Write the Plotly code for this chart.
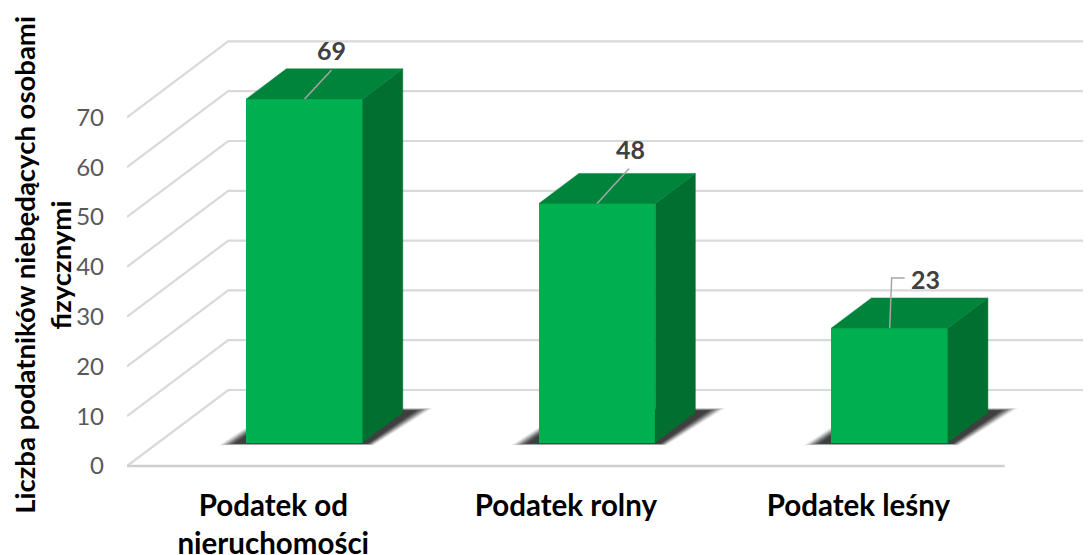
import plotly.graph_objects as go

categories = ["Podatek od<br>nieruchomości", "Podatek rolny", "Podatek leśny"]
values = [69, 48, 23]
value_ticks = [0, 10, 20, 30, 40, 50, 60, 70]
y_title = "Liczba podatników niebędących osobami<br>fizycznymi"

# oblique projection: depth 0 = front plane, depth 1 = back wall
DX, DY = 0.346, 15.26
BAR_D0, BAR_D1 = 0.309, 0.704
HALF = 0.199
X_LO, X_HI = -0.5, 2.5
FRONT, TOP, SIDE = "#00B050", "#00843C", "#006F2F"
GRID = "#D9D9D9"


def pr(x, v, d):
    return x + d * DX, v + d * DY


def path(pts):
    return "M " + " L ".join(f"{a:.4f},{b:.4f}" for a, b in pts) + " Z"


shapes = []
for t in value_ticks:
    a = pr(X_LO, t, 0)
    b = pr(X_LO, t, 1)
    c = pr(X_HI, t, 1)
    shapes.append(dict(type="path", path=f"M {a[0]},{a[1]} L {b[0]},{b[1]} L {c[0]},{c[1]}",
                       xref="x", yref="y", layer="below", line=dict(color=GRID, width=2.2)))
a, b = pr(X_LO, 0, 0), pr(X_HI, 0, 0)
shapes.append(dict(type="line", x0=a[0], y0=a[1], x1=b[0], y1=b[1], xref="x", yref="y",
                   layer="below", line=dict(color="#CFCFCF", width=2.5)))

# soft shadow on the floor around each bar
PX_X, PX_Y = 292.6, 4.98
for i in range(len(values)):
    for grow, alpha in [(1.0, .08), (.92, .12), (.84, .16), (.76, .2), (.68, .25), (.6, .3), (.52, .35), (.44, .4)]:
        g = grow * 24 / PX_X
        dlow = BAR_D0 - grow * 0.035
        dhigh = BAR_D1 + grow * 0.06
        quad = [pr(i - HALF - g, 0, dlow), pr(i - HALF - g * 0.7, 0, dhigh),
                pr(i + HALF + g, 0, dhigh), pr(i + HALF + g * 0.6, 0, dlow)]
        shapes.append(dict(type="path", path=path(quad), xref="x", yref="y", layer="below",
                           fillcolor=f"rgba(40,40,40,{alpha})", line=dict(width=0)))

fig = go.Figure()
cx = [i + BAR_D0 * DX for i in range(len(values))]
fig.add_trace(go.Bar(x=cx, y=values, base=BAR_D0 * DY, width=2 * HALF,
                     marker=dict(color=FRONT, line=dict(width=0)), hoverinfo="skip", showlegend=False))

for i, v in enumerate(values):
    top = [pr(i - HALF, v, BAR_D0), pr(i - HALF, v, BAR_D1), pr(i + HALF, v, BAR_D1), pr(i + HALF, v, BAR_D0)]
    side = [pr(i + HALF, 0, BAR_D0), pr(i + HALF, 0, BAR_D1), pr(i + HALF, v, BAR_D1), pr(i + HALF, v, BAR_D0)]
    for poly, col in [(side, SIDE), (top, TOP)]:
        xs, ys = zip(*(poly + poly[:1]))
        fig.add_trace(go.Scatter(x=xs, y=ys, mode="lines", fill="toself", fillcolor=col,
                                 line=dict(width=0.5, color=col), hoverinfo="skip", showlegend=False))

# data labels with leader lines (pixel offsets from the centre of the bar's front top edge)
leaders = [[(27, 29)], [(32, 35)], [(2, 50), (15, 50)]]
label_off = [(27, 49), (33, 54), (36, 49)]
annotations = []
for i, v in enumerate(values):
    x0, y0 = pr(i, v, BAR_D0)
    xs = [x0] + [x0 + p[0] / PX_X for p in leaders[i]]
    ys = [y0] + [y0 + p[1] / PX_Y for p in leaders[i]]
    fig.add_trace(go.Scatter(x=xs, y=ys, mode="lines", line=dict(color="#A6A6A6", width=1.5),
                             hoverinfo="skip", showlegend=False))
    annotations.append(dict(x=x0 + label_off[i][0] / PX_X, y=y0 + label_off[i][1] / PX_Y, text=f"<b>{v}</b>",
                            showarrow=False, font=dict(size=25, color="#404040", family="Lato")))

fig.update_layout(
    width=1083, height=547, autosize=False,
    margin=dict(l=119, r=0, t=7, b=40),
    paper_bgcolor="white", plot_bgcolor="white",
    font=dict(family="Lato"),
    showlegend=False, shapes=shapes, annotations=annotations, bargap=0,
    xaxis=dict(range=[-0.5, 2.795], tickmode="array", tickvals=list(range(len(categories))), automargin=False,
               ticktext=[f"<b>{c}</b>" for c in categories], showgrid=False, zeroline=False, showline=False,
               ticks="", tickfont=dict(size=29.5, color="black", family="Lato"), ticklabelstandoff=-30),
    yaxis=dict(range=[-9.84, 90.56], tickmode="array", tickvals=value_ticks, showgrid=False, zeroline=False,
               showline=False, ticks="", tickfont=dict(size=24, color="#595959", family="Lato"), automargin=True,
               ticklabelstandoff=22, ticklabelshift=0,
               title=dict(text=f"<b>{y_title}</b>", font=dict(size=27.5, color="black", family="Lato"), standoff=3)),
)
fig.write_html("out.html")
